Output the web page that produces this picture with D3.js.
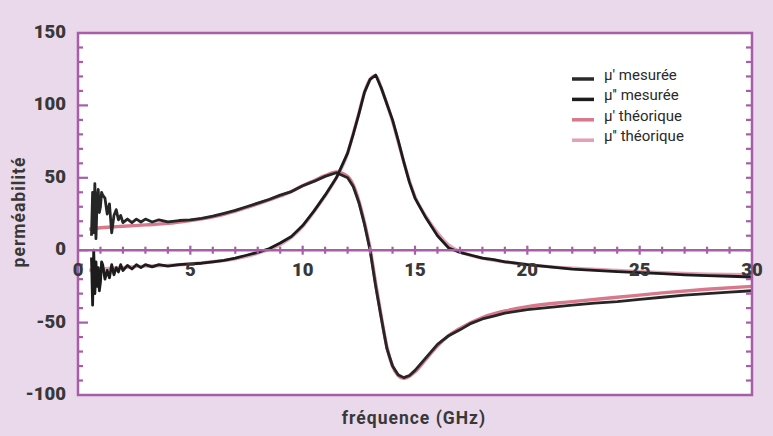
<!DOCTYPE html>
<html>
<head>
<meta charset="utf-8">
<script src="https://cdn.jsdelivr.net/npm/d3@7"></script>
<style>
  body { margin: 0; background: #ead9ea; }
  svg { display: block; }
</style>
</head>
<body>
<div id="chart"></div>
<script>
// measured data (GHz)
const freqMeas = [0.6, 0.65, 0.7, 0.75, 0.8, 0.85, 0.9, 0.95, 1.0, 1.05, 1.1, 1.2, 1.3, 1.4, 1.5, 1.6, 1.7, 1.8, 1.9, 2.0,
  2.2, 2.4, 2.6, 2.8, 3.0, 3.3, 3.6, 4.0, 4.5, 5.0, 5.5, 6, 6.5, 7, 7.5, 8, 8.5, 9, 9.5, 10, 10.5, 11, 11.5,
  12, 12.25, 12.5, 12.75, 13, 13.25, 13.5, 13.75, 14, 14.25, 14.5, 14.75, 15, 15.5, 16, 16.5, 17, 17.5, 18,
  18.5, 19, 20, 21, 22, 23, 24, 25, 26, 27, 28, 29, 30];
const muRealMeas = [10, 40, 12, 46, 8, 35, 42, 26, 30, 40, 38, 36, 25, 32, 12, 24, 28, 21, 24, 19,
  21.5, 19, 21.5, 19.5, 21.5, 19.5, 21, 19.5, 20.5, 21, 22, 23.5, 25.5, 27.5, 30, 32.5, 35, 38, 40.5, 44.5, 47.5, 51, 53.5,
  50, 44, 33, 18, 0, -25, -47, -68, -80, -86, -88, -86.5, -83, -74, -65, -59, -55, -50.5, -47.5,
  -45.5, -43.5, -41, -39.5, -38, -36.5, -35.5, -34, -32.5, -31, -30, -29, -28];
const muImagMeas = [-5, -38, 0, -30, -8, -25, -12, -28, -22, -8, -10, -20, -14, -19, -10, -17, -12, -15, -10, -14,
  -10.5, -13, -10, -12, -10, -11.5, -10, -11, -10, -9.5, -9, -8, -7, -5.5, -3.5, -1.5, 1, 5, 9.5, 17, 27, 38, 50,
  67, 80, 94, 109, 118, 121, 112, 101, 90, 76, 61, 47, 36, 22, 10, 1.5, -1.5, -3.5, -5.5,
  -6.5, -8, -10, -11.5, -13, -14, -14.8, -15.5, -16.2, -17, -17.6, -18, -18.5];

// theoretical data
const freqTheo = [0.5, 1, 1.5, 2, 3, 4, 5, 6, 7, 8, 9, 9.5, 10, 10.5, 11, 11.5, 12, 12.25, 12.5, 12.75, 13,
  13.25, 13.5, 13.75, 14, 14.25, 14.5, 14.75, 15, 15.5, 16, 16.5, 17, 18, 19, 20, 22, 24, 26, 28, 30];
const muRealTheo = [14.5, 15.5, 16, 16.5, 17.5, 18.5, 20.5, 23, 27, 32, 37.5, 40.5, 44.5, 48, 51.5, 54, 51, 45, 34, 19, 1,
  -23, -46, -67, -80, -86.5, -88.5, -87, -84, -75, -66, -59, -54, -46.5, -42, -39, -35.5, -32.5, -29.5, -27, -25];
const muImagTheo = [-14, -13, -12.5, -12, -11, -10.5, -9.5, -8, -6, -2, 4, 9, 16.5, 26.5, 37.5, 50, 67, 80.5, 94.5, 109, 118,
  120.5, 112, 101, 89, 75, 61, 48, 37, 23, 12, 3.5, -1, -5.5, -8, -10, -12.5, -14, -15.5, -16.5, -17];

const xTicks = [0, 5, 10, 15, 20, 25, 30];
const yTicks = [150, 100, 50, 0, -50, -100];
const legendLabels = ['μ′ mesurée', 'μ′′ mesurée', 'μ′ théorique', 'μ′′ théorique'];

const W = 773, H = 436;
const m = { left: 78, right: 752, top: 33, bottom: 395 };
const purple = '#a65ea6';
const txt = '#383838';

const svg = d3.select('#chart').append('svg')
  .attr('width', W)
  .attr('height', H);

svg.append('rect').attr('width', W).attr('height', H).attr('fill', '#ead9ea');

const x = d3.scaleLinear().domain([0, 30]).range([m.left, m.right]);
const y = d3.scaleLinear().domain([-100, 150]).range([m.bottom, m.top]);

svg.append('rect')
  .attr('x', m.left).attr('y', m.top)
  .attr('width', m.right - m.left).attr('height', m.bottom - m.top)
  .attr('fill', '#fff');

// curves
const lineSmooth = d3.line().curve(d3.curveMonotoneX).x(d => x(d[0])).y(d => y(d[1]));
const lineRaw = d3.line().x(d => x(d[0])).y(d => y(d[1]));

const theo = [
  { f: freqTheo, v: muRealTheo, color: '#d9788a' },
  { f: freqTheo, v: muImagTheo, color: '#e3a0b4' }
];
const meas = [
  { f: freqMeas, v: muRealMeas, color: '#262626' },
  { f: freqMeas, v: muImagMeas, color: '#1c1c1c' }
];

svg.selectAll('.theo').data(theo).enter()
  .append('path')
  .attr('class', 'theo')
  .attr('fill', 'none')
  .attr('stroke', d => d.color)
  .attr('stroke-width', 3.4)
  .attr('d', d => lineSmooth(d.f.map((f, i) => [f, d.v[i]])));

svg.selectAll('.meas').data(meas).enter()
  .append('path')
  .attr('class', 'meas')
  .attr('fill', 'none')
  .attr('stroke', d => d.color)
  .attr('stroke-width', 2.8)
  .attr('stroke-linejoin', 'round')
  .attr('d', d => lineRaw(d.f.map((f, i) => [f, d.v[i]])));

// frame
svg.append('rect')
  .attr('x', m.left).attr('y', m.top)
  .attr('width', m.right - m.left).attr('height', m.bottom - m.top)
  .attr('fill', 'none')
  .attr('stroke', purple)
  .attr('stroke-width', 2.5);

// y ticks on left and right borders
const yMinor = d3.range(-90, 150, 10);
svg.selectAll('.ytl').data(yMinor).enter()
  .append('line')
  .attr('x1', m.left).attr('x2', d => m.left + (d % 50 === 0 ? 10 : 5))
  .attr('y1', d => y(d)).attr('y2', d => y(d))
  .attr('stroke', purple).attr('stroke-width', 2.2);
svg.selectAll('.ytr').data(yMinor).enter()
  .append('line')
  .attr('x1', m.right).attr('x2', m.right - 6)
  .attr('y1', d => y(d)).attr('y2', d => y(d))
  .attr('stroke', purple).attr('stroke-width', 2.2);

// x axis along zero
svg.append('line')
  .attr('x1', m.left).attr('x2', m.right)
  .attr('y1', y(0)).attr('y2', y(0))
  .attr('stroke', purple).attr('stroke-width', 2.5);
svg.selectAll('.xt').data(d3.range(1, 30)).enter()
  .append('line')
  .attr('x1', d => x(d)).attr('x2', d => x(d))
  .attr('y1', d => y(0) - (d % 5 === 0 ? 4.5 : 3.5))
  .attr('y2', d => y(0) + (d % 5 === 0 ? 4.5 : 3.5))
  .attr('stroke', purple).attr('stroke-width', 2.2);

// tick labels
svg.selectAll('.xl').data(xTicks).enter()
  .append('text')
  .attr('x', d => x(d)).attr('y', y(0) + 26)
  .attr('text-anchor', 'middle')
  .attr('font-family', 'Roboto, sans-serif').attr('font-weight', 900)
  .attr('font-size', 18.5).attr('fill', txt)
  .text(d => d);

svg.selectAll('.yl').data(yTicks).enter()
  .append('text')
  .attr('x', 66).attr('y', d => y(d) + 5)
  .attr('text-anchor', 'end')
  .attr('font-family', 'Roboto, sans-serif').attr('font-weight', 900)
  .attr('font-size', 18.5).attr('fill', txt)
  .text(d => d);

// axis titles
svg.append('text')
  .attr('x', 414).attr('y', 424)
  .attr('text-anchor', 'middle')
  .attr('font-family', 'Roboto, sans-serif').attr('font-weight', 'bold')
  .attr('font-size', 17.5).attr('letter-spacing', 1).attr('fill', txt)
  .text('fréquence (GHz)');

svg.append('text')
  .attr('transform', 'translate(25,212) rotate(-90)')
  .attr('text-anchor', 'middle')
  .attr('font-family', 'Roboto, sans-serif').attr('font-weight', 'bold')
  .attr('font-size', 17.5).attr('letter-spacing', 1).attr('fill', txt)
  .text('perméabilité');

// legend
const legColors = ['#2a2a2a', '#1c1c1c', '#d9788a', '#e3a0b4'];
const leg = svg.selectAll('.leg').data(legendLabels).enter()
  .append('g')
  .attr('transform', (d, i) => 'translate(572,' + (80 + i * 20.4) + ')');
leg.append('line')
  .attr('x1', 0).attr('x2', 22).attr('y1', -1).attr('y2', -1)
  .attr('stroke', (d, i) => legColors[i])
  .attr('stroke-width', 3.5);
leg.append('text')
  .attr('x', 32).attr('y', 0)
  .attr('font-family', 'Roboto, sans-serif')
  .attr('font-size', 15).attr('fill', '#2a2a2a')
  .text(d => d);
</script>
</body>
</html>
